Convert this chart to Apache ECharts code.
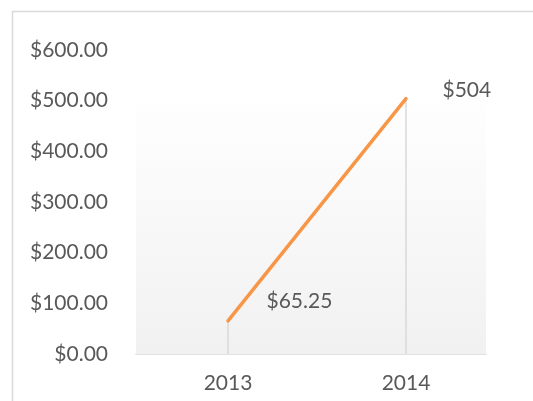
<!DOCTYPE html>
<html>
<head>
<meta charset="utf-8">
<script src="https://cdn.jsdelivr.net/npm/echarts@6/dist/echarts.min.js"></script>
<style>
  html, body { margin: 0; padding: 0; background: #fff; }
  #chart { width: 533px; height: 401px; }
</style>
</head>
<body>
<div id="chart"></div>
<script>
// data
const years = ['2013', '2014'];
const amounts = [65.25, 504];
const amountLabels = ['$65.25', '$504'];
const yTicks = [0, 100, 200, 300, 400, 500, 600];
const shadedTop = 525; // where the grey plot background stops

const textColor = '#595959';
const font = 'Lato, "Open Sans", sans-serif';
const yMin = yTicks[0], yMax = yTicks[yTicks.length - 1];
// Excel puts the value labels up and to the right of each point
const labelShift = [[33, -20], [31, -8]];

const chart = echarts.init(document.getElementById('chart'));

chart.setOption({
  animation: false,
  backgroundColor: '#fff',
  // outer frame, cut off on the right and bottom like the reference
  graphic: [{
    type: 'rect',
    shape: { x: 12.5, y: 11.5, width: 700, height: 600 },
    style: { fill: 'none', stroke: '#d9d9d9', lineWidth: 1.5 },
    silent: true
  }],
  // grid 0: visible axes + shaded plot area; grid 1: the marks (Excel centres them a bit right)
  grid: [
    { left: 136, right: 47, top: 50, bottom: 47 },
    { left: 139, right: 38, top: 50, bottom: 47 }
  ],
  xAxis: [{
    type: 'category',
    gridIndex: 0,
    data: years,
    axisLine: { lineStyle: { color: '#d9d9d9', width: 1.5 } },
    axisTick: { show: false },
    axisLabel: { show: false }
  }, {
    type: 'category',
    gridIndex: 1,
    data: years,
    axisLine: { show: false },
    axisTick: { show: false },
    axisLabel: { color: textColor, fontSize: 21, fontFamily: font, margin: 19 }
  }],
  yAxis: [{
    type: 'value',
    gridIndex: 0,
    min: yMin, max: yMax, interval: 100,
    splitLine: { show: false },
    axisLine: { show: false },
    axisTick: { show: false },
    axisLabel: {
      color: textColor, fontSize: 21, fontFamily: font, margin: 28,
      formatter: v => '$' + v.toFixed(2)
    }
  }, {
    type: 'value',
    gridIndex: 1,
    min: yMin, max: yMax, interval: 100,
    show: false
  }],
  series: [
    {
      // carries only the shaded plot background
      type: 'line',
      xAxisIndex: 0, yAxisIndex: 0,
      data: [],
      silent: true,
      markArea: {
        silent: true,
        itemStyle: {
          color: new echarts.graphic.LinearGradient(0, 0, 0, 1, [
            { offset: 0, color: '#ffffff' },
            { offset: 1, color: '#f1f1f1' }
          ])
        },
        data: [[{ yAxis: 0 }, { yAxis: shadedTop }]]
      }
    },
    {
      // drop lines from each point down to the axis
      type: 'bar',
      xAxisIndex: 1, yAxisIndex: 1,
      data: amounts,
      barWidth: 1.5,
      z: 2,
      itemStyle: { color: '#d9d9d9' },
      silent: true
    },
    {
      type: 'line',
      xAxisIndex: 1, yAxisIndex: 1,
      data: amounts,
      z: 3,
      symbol: 'circle',
      symbolSize: 1,
      showSymbol: true,
      itemStyle: { color: '#f79646' },
      lineStyle: { color: '#f79646', width: 3.5, cap: 'round' },
      label: {
        show: true,
        position: 'right',
        color: textColor,
        fontSize: 21,
        fontFamily: font,
        formatter: p => amountLabels[p.dataIndex]
      },
      labelLayout: p => ({
        dx: labelShift[p.dataIndex][0],
        dy: labelShift[p.dataIndex][1],
        hideOverlap: false
      }),
      emphasis: { disabled: true }
    }
  ]
});
</script>
</body>
</html>
